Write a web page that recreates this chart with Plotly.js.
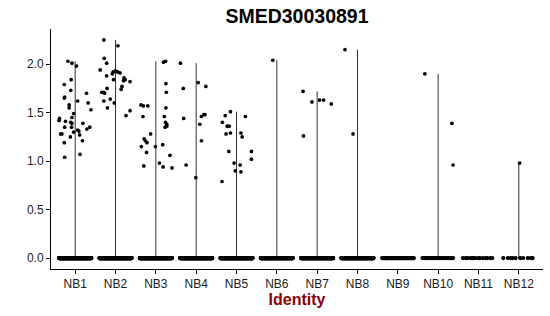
<!DOCTYPE html>
<html>
<head>
<meta charset="utf-8">
<script src="https://cdn.plot.ly/plotly-3.0.1.min.js"></script>
<style>html,body{margin:0;padding:0;background:#fff;}#chart{width:550px;height:316px;}</style>
</head>
<body>
<div id="chart"></div>
<script>
// ---- data ----
const categories = ['NB1','NB2','NB3','NB4','NB5','NB6','NB7','NB8','NB9','NB10','NB11','NB12'];
const yTicks = [0, 0.5, 1, 1.5, 2];

// non-zero expression values per identity
const nb1Values = [2.03,2.01,1.98,1.84,1.79,1.73,1.70,1.66,1.65,1.62,1.60,1.58,1.55,1.53,1.49,1.45,1.44,1.42,1.41,1.40,1.39,1.39,1.35,1.35,1.35,1.33,1.28,1.28,1.30,1.32,1.31,1.27,1.25,1.21,1.19,1.07,1.04];
const nb2Values = [2.25,2.19,2.06,2.01,1.94,1.92,1.93,1.92,1.91,1.90,1.88,1.84,1.86,1.84,1.83,1.82,1.75,1.77,1.74,1.71,1.71,1.70,1.64,1.62,1.60,1.55,1.52,1.47];
const nb3Values = [2.02,2.03,1.80,1.71,1.58,1.57,1.57,1.55,1.46,1.46,1.40,1.38,1.35,1.36,1.28,1.23,1.21,1.19,1.15,1.15,1.17,1.09,1.06,0.95,0.98,0.94,0.93];
const nb4Values = [2.01,1.81,1.77,1.75,1.48,1.48,1.46,1.44,1.38,1.21,0.96,0.83];
const nb5Values = [1.51,1.47,1.46,1.40,1.36,1.36,1.28,1.29,1.29,1.25,1.10,1.10,1.02,0.98,0.96,0.90,0.89,0.79];
const nb6Values = [2.04];
const nb7Values = [1.72,1.61,1.63,1.63,1.59,1.26];
const nb8Values = [2.15,1.28];
const nb9Values = [];
const nb10Values = [1.90,1.39,0.96];
const nb11Values = [];
const nb12Values = [0.98];

// horizontal jitter of those points (fraction of a category slot)
const nb1Jitter = [-0.18,-0.08,0.03,-0.10,-0.27,-0.11,0.28,-0.26,-0.27,0.06,0.32,-0.15,-0.15,0.39,-0.04,-0.08,-0.39,-0.40,-0.24,-0.11,-0.08,0.19,-0.26,-0.09,0.36,0.29,-0.36,-0.33,-0.04,0.06,0.09,0.11,-0.12,0.18,-0.27,0.12,-0.26];
const nb2Jitter = [-0.29,0.06,-0.28,-0.22,-0.38,-0.06,0.0,0.05,0.11,-0.08,-0.22,-0.05,0.21,0.24,0.20,0.36,-0.21,0.16,0.14,-0.34,-0.29,-0.27,-0.13,-0.29,-0.03,-0.20,0.36,0.26];
const nb3Jitter = [0.19,0.24,0.25,0.26,-0.37,-0.31,-0.20,0.25,-0.32,0.21,0.24,0.27,0.23,0.27,-0.13,-0.29,-0.26,-0.22,-0.36,-0.01,0.17,-0.23,0.35,-0.30,0.09,0.18,0.40];
const nb4Jitter = [-0.39,0.05,0.24,-0.32,0.19,0.22,0.13,-0.31,0.09,0.13,-0.25,-0.01];
const nb5Jitter = [-0.15,-0.28,0.22,-0.35,-0.23,-0.18,-0.26,-0.15,0.11,0.14,-0.19,0.37,0.37,-0.06,0.09,-0.03,0.11,-0.36];
const nb6Jitter = [-0.10];
const nb7Jitter = [-0.35,-0.13,0.06,0.16,0.35,-0.34];
const nb8Jitter = [-0.31,-0.11];
const nb9Jitter = [];
const nb10Jitter = [-0.33,0.34,0.37];
const nb11Jitter = [];
const nb12Jitter = [0.02];

// number of cells with zero expression per identity (estimated)
const zeroCounts = [300,300,300,300,300,250,250,250,60,25,14,10];

const groupValues = [nb1Values,nb2Values,nb3Values,nb4Values,nb5Values,nb6Values,nb7Values,nb8Values,nb9Values,nb10Values,nb11Values,nb12Values];
const groupJitter = [nb1Jitter,nb2Jitter,nb3Jitter,nb4Jitter,nb5Jitter,nb6Jitter,nb7Jitter,nb8Jitter,nb9Jitter,nb10Jitter,nb11Jitter,nb12Jitter];

// ---- build traces ----
const FONT = 'Liberation Sans, Arial, Helvetica, sans-serif';
const traces = [];

// violins (so thin they collapse to a line from 0 to the group maximum)
const vx = [], vy = [];
groupValues.forEach((vals, i) => {
  if (vals.length) {
    const mx = Math.max(...vals);
    vx.push(i, i, null); vy.push(0, mx, null);
  }
});
traces.push({type:'scatter', mode:'lines', x: vx, y: vy, line:{color:'#333333', width:1}, hoverinfo:'skip', showlegend:false});

// jittered points: zeros and non-zeros
const zx = [], zy = [], px = [], py = [];
const GOLD = 0.6180339887;
groupValues.forEach((vals, i) => {
  const n0 = zeroCounts[i];
  for (let k = 0; k < n0; k++) {
    const f = ((k + 0.5) * GOLD) % 1;
    zx.push(i - 0.4 + 0.8 * f); zy.push(0);
  }
  vals.forEach((v, j) => { px.push(i + groupJitter[i][j]); py.push(v); });
});
traces.push({type:'scatter', mode:'markers', x: zx, y: zy, marker:{color:'#000000', size:4.3}, hoverinfo:'skip', showlegend:false});
traces.push({type:'scatter', mode:'markers', x: px, y: py, marker:{color:'#000000', size:3.7}, hoverinfo:'skip', showlegend:false});

const allVals = [].concat(...groupValues);
const yMax = Math.max(...allVals);
const pad = 0.05 * yMax;

const layout = {
  width: 550, height: 316,
  margin: {l:51, r:7, t:29, b:47, pad:0},
  paper_bgcolor:'#ffffff', plot_bgcolor:'#ffffff',
  showlegend:false,
  title: {text:'SMED30030891', x:0.5, xref:'paper', xanchor:'center', y: 1 - 16/316, yref:'container', yanchor:'middle',
          font:{family:FONT, size:19.5, color:'#000000', weight:'bold'}},
  xaxis: {
    range:[-0.6, categories.length - 0.4], tickvals: categories.map((c,i)=>i), ticktext: categories,
    showgrid:false, zeroline:false, showline:true, linecolor:'#000000', linewidth:1,
    ticks:'outside', ticklen:4, tickwidth:1, tickcolor:'#000000',
    tickfont:{family:FONT, size:12, color:'#1a1a1a'},
    title:{text:'Identity', font:{family:FONT, size:16, color:'#8B0000', weight:'bold'}, standoff:3}
  },
  yaxis: {
    range:[-pad, yMax + pad], tickvals: yTicks, tickformat:'.1f',
    showgrid:false, zeroline:false, showline:true, linecolor:'#000000', linewidth:1,
    ticks:'outside', ticklen:4, tickwidth:1, tickcolor:'#000000',
    tickfont:{family:FONT, size:12, color:'#1a1a1a'}
  }
};

Plotly.newPlot('chart', traces, layout, {displayModeBar:false, staticPlot:true});
</script>
</body>
</html>
